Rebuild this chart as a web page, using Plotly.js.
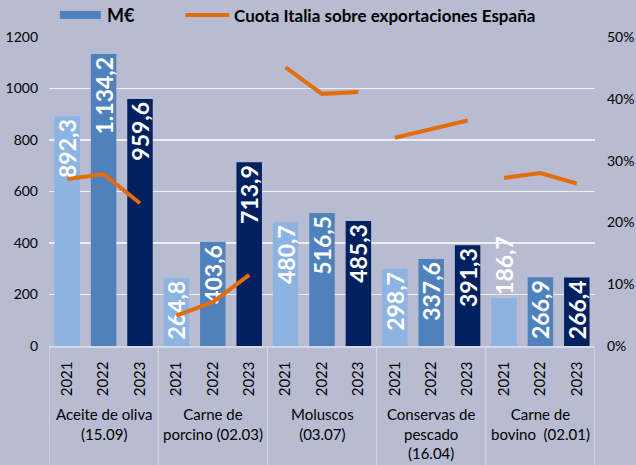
<!DOCTYPE html>
<html>
<head>
<meta charset="utf-8">
<script src="https://cdn.plot.ly/plotly-3.0.1.min.js"></script>
<style>html,body{margin:0;padding:0;background:#b8bcd2;}#chart{width:636px;height:465px;}</style>
</head>
<body>
<div id="chart"></div>
<script>
const categories = ['Aceite de oliva<br>(15.09)', 'Carne de<br>porcino (02.03)', 'Moluscos<br>(03.07)', 'Conservas de<br>pescado<br>(16.04)', 'Carne de<br>bovino\u00a0 (02.01)'];
const years = ['2021', '2022', '2023'];
const meur2021 = [892.3, 264.8, 480.7, 298.7, 186.7];
const meur2022 = [1134.2, 403.6, 516.5, 337.6, 266.9];
const meur2023 = [959.6, 713.9, 485.3, 391.3, 266.4];
const share2021 = [27.0, 4.9, 45.1, 33.7, 27.2];
const share2022 = [27.8, 7.1, 40.8, 35.1, 28.0];
const share2023 = [23.1, 11.5, 41.1, 36.5, 26.3];
const yTicks = [0, 200, 400, 600, 800, 1000, 1200];
const y2Ticks = [0, 10, 20, 30, 40, 50];
const y2TickLabels = ['0%', '10%', '20%', '30%', '40%', '50%'];

const yearColors = ['#8db3e2', '#4f81bd', '#002060'];
const FONT = 'Lato, "Open Sans", sans-serif';

function fmt(v) {
  const parts = v.toFixed(1).split('.');
  const intPart = parts[0].replace(/\B(?=(\d{3})+(?!\d))/g, '.');
  return intPart + ',' + parts[1];
}

const meur = [meur2021, meur2022, meur2023];
const share = [share2021, share2022, share2023];

const bx = [], by = [], btext = [], bcol = [], bpos = [], tickText = [];
const lx = [], ly = [];
categories.forEach((c, ci) => {
  years.forEach((yr, yi) => {
    const x = ci * years.length + yi;
    const v = meur[yi][ci];
    bx.push(x); by.push(v); btext.push(fmt(v)); bcol.push(yearColors[yi]);
    bpos.push(v < 200 ? 'outside' : 'inside');
    tickText.push(yr);
    lx.push(x); ly.push(share[yi][ci]);
  });
  lx.push(ci * years.length + years.length - 0.5); ly.push(null);
});

const bars = {
  type: 'bar', x: bx, y: by, text: btext, textposition: bpos,
  textangle: -90, insidetextanchor: 'end', constraintext: 'none', cliponaxis: false,
  textfont: {family: FONT, size: 23, color: '#ffffff', weight: 'bold'},
  outsidetextfont: {family: FONT, size: 23, color: '#ffffff', weight: 'bold'},
  marker: {color: bcol}, hoverinfo: 'none', showlegend: false
};
const line = {
  type: 'scatter', mode: 'lines', x: lx, y: ly, yaxis: 'y2', connectgaps: false,
  line: {color: '#e46c0a', width: 4}, hoverinfo: 'none', showlegend: false
};

const n = categories.length * years.length;
const shapes = [];
for (let ci = 0; ci <= categories.length; ci++) {
  shapes.push({type: 'line', xref: 'x', yref: 'paper', x0: ci * 3 - 0.5, x1: ci * 3 - 0.5, y0: 0, y1: -0.4,
    line: {color: '#d6d7e0', width: 1.2}});
}
// legend
shapes.push({type: 'rect', xref: 'paper', yref: 'paper', x0: 0.020, x1: 0.095, y0: 1.058, y1: 1.084,
  fillcolor: '#4f81bd', line: {width: 0}});
shapes.push({type: 'line', xref: 'paper', yref: 'paper', x0: 0.250, x1: 0.330, y0: 1.071, y1: 1.071,
  line: {color: '#e46c0a', width: 4}});

const annotations = categories.map((c, ci) => ({
  xref: 'x', yref: 'paper', x: ci * 3 + 1, y: -0.185, yanchor: 'top', xanchor: 'center',
  text: c, showarrow: false, align: 'center',
  font: {family: FONT, size: 15, color: '#000000'}
}));
annotations.push({xref: 'paper', yref: 'paper', x: 0.102, y: 1.071, xanchor: 'left', yanchor: 'middle',
  text: 'M€', showarrow: false, font: {family: FONT, size: 18, color: '#000000', weight: 'bold'}});
annotations.push({xref: 'paper', yref: 'paper', x: 0.336, y: 1.071, xanchor: 'left', yanchor: 'middle',
  text: 'Cuota Italia sobre exportaciones España', showarrow: false,
  font: {family: FONT, size: 17, color: '#000000', weight: 'bold'}});

const layout = {
  width: 636, height: 465,
  margin: {l: 49, r: 41, t: 37, b: 119, pad: 0},
  paper_bgcolor: '#b8bcd2', plot_bgcolor: '#b8bcd2',
  bargap: 0.30,
  xaxis: {
    range: [-0.5, n - 0.5], tickmode: 'array', tickvals: bx, ticktext: tickText,
    tickangle: -90, showgrid: false, zeroline: false, showline: true,
    linecolor: '#d6d7e0', linewidth: 1.5, ticks: '', ticklabelstandoff: 8,
    tickfont: {family: FONT, size: 15, color: '#000000'}, fixedrange: true
  },
  yaxis: {
    range: [0, 1200], tickmode: 'array', tickvals: yTicks, showgrid: true,
    gridcolor: '#eeeef4', gridwidth: 1.5, zeroline: false, ticks: '', ticklabelstandoff: 10,
    tickfont: {family: FONT, size: 14, color: '#000000'}, fixedrange: true
  },
  yaxis2: {
    overlaying: 'y', side: 'right', range: [0, 50], tickmode: 'array', tickvals: y2Ticks,
    ticktext: y2TickLabels, showgrid: false, zeroline: false, ticks: '', ticklabelstandoff: 11,
    tickfont: {family: FONT, size: 14, color: '#000000'}, fixedrange: true
  },
  shapes: shapes, annotations: annotations, showlegend: false
};

Plotly.newPlot('chart', [bars, line], layout, {displayModeBar: false, staticPlot: true});
</script>
</body>
</html>
